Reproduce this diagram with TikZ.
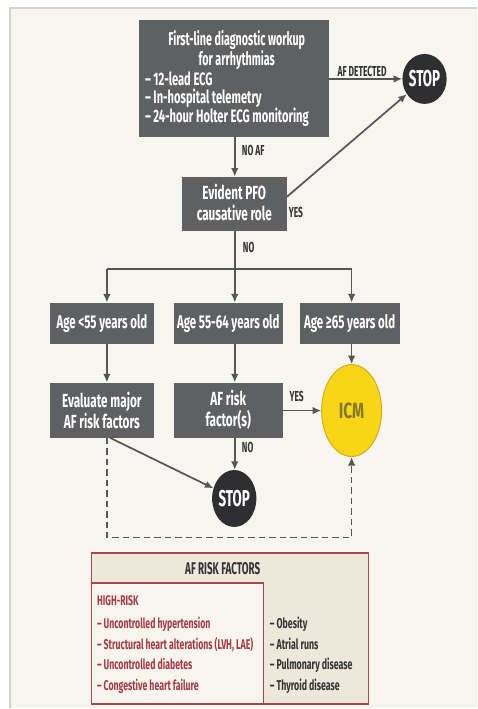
\documentclass[tikz,border=0pt]{standalone}
\usepackage{fontspec}
\setmainfont{Fira Sans}[FakeStretch=0.62]
\newfontfamily\narrowfont{Fira Sans}[FakeStretch=0.58]
\newfontfamily\widefont{Fira Sans}[FakeStretch=0.7]
\usetikzlibrary{arrows.meta,shapes.geometric,calc}
\definecolor{pagebg}{HTML}{F7F5F0}
\definecolor{frameline}{HTML}{D2D2D2}
\definecolor{boxgray}{HTML}{5F6062}
\definecolor{stopfill}{HTML}{2F2F31}
\definecolor{icmfill}{HTML}{F8D615}
\definecolor{icmedge}{HTML}{CFAE1C}
\definecolor{icmtext}{HTML}{85772E}
\definecolor{linegray}{HTML}{555555}
\definecolor{riskred}{HTML}{A8474E}
\definecolor{risktext}{HTML}{A33B45}
\definecolor{riskbeige}{HTML}{EDE8DA}
\definecolor{riskpale}{HTML}{F8F5EF}
\definecolor{labeltext}{HTML}{333333}
\newcommand{\fs}[2]{\fontsize{#1}{#2}\selectfont}

\begin{document}
\begin{tikzpicture}[x=1pt,y=-1pt,
  graybox/.style={rectangle, fill=boxgray, inner sep=0pt},
  boxtext/.style={text=white, inner sep=0pt, align=center, font=\bfseries\fs{19}{21}},
  stopsign/.style={ellipse, fill=stopfill, text=white, inner sep=0pt, font=\narrowfont\bfseries\fs{23}{23}},
  flow/.style={draw=linegray, line width=1.7pt, -{Latex[length=8.5pt,width=7.5pt]}},
  dashflow/.style={flow, dash pattern=on 6.5pt off 4pt},
  lbl/.style={text=labeltext, inner sep=0pt, font=\narrowfont\bfseries\fs{14.5}{14.5}},
  riskitem/.style={inner sep=0pt, anchor=west, align=left, font=\bfseries\fs{14.1}{20.7}}]

% page and frame
\fill[white] (0,0) rectangle (477,709);
\fill[pagebg] (11,9) rectangle (477,709);
\draw[frameline, line width=1.5pt] (10,709) -- (10,8) -- (477,8);

% first-line workup
\node[graybox, minimum width=190pt, minimum height=117pt] (work) at (234,78.5) {};
\node[boxtext, font=\narrowfont\bfseries\fs{18.5}{16}] (worktitle) at (237,50.5)
  {First-line diagnostic workup\\for arrhythmias};
\node[boxtext, anchor=west, align=left, font=\bfseries\fs{18}{17.5}] (worklist) at (145,99.5)
  {– 12-lead ECG\\– In-hospital telemetry\\– 24-hour Holter ECG monitoring};
\node[stopsign, minimum width=37pt, minimum height=50pt] (stopA) at (425,79) {STOP};

% PFO decision
\node[graybox, minimum width=105pt, minimum height=54pt] (pfo) at (234.5,204) {};
\node[boxtext] (pfotext) at (234.5,203) {Evident PFO\\causative role};

% age groups
\coordinate (brL) at (107,269);
\coordinate (brM) at (235,269);
\coordinate (brR) at (352,269);
\node[graybox, minimum width=104pt, minimum height=41pt] (ageA) at (102,323.5) {};
\node[graybox, minimum width=109pt, minimum height=41pt] (ageB) at (228.5,323.5) {};
\node[graybox, minimum width=100pt, minimum height=41pt] (ageC) at (350,323.5) {};
\node[boxtext, font=\bfseries\fs{18.5}{18.5}] (ageAtext) at (102,323.5) {Age <55 years old};
\node[boxtext, font=\bfseries\fs{18.5}{18.5}] (ageBtext) at (228.5,323.5) {Age 55-64 years old};
\node[boxtext, font=\bfseries\fs{18.5}{18.5}] (ageCtext) at (350,323.5) {Age ≥65 years old};

% second row
\node[graybox, minimum width=104pt, minimum height=55pt] (evalf) at (102,410.5) {};
\node[boxtext] (evaltext) at (102,410.5) {Evaluate major\\AF risk factors};
\node[graybox, minimum width=109pt, minimum height=55pt] (afr) at (228.5,410.5) {};
\node[boxtext] (afrtext) at (228.5,410.5) {AF risk\\factor(s)};
\node[ellipse, fill=icmfill, draw=icmedge, line width=1pt, minimum width=60pt, minimum height=92pt,
      inner sep=0pt, text=icmtext, font=\widefont\bfseries\fs{22}{22}] (icm) at (352,411) {ICM};
\node[stopsign, minimum width=37pt, minimum height=57pt] (stopB) at (234.5,499) {STOP};
\coordinate (dashL) at (107,538);
\coordinate (dashR) at (352,538);

% connectors
\draw[flow] (work.east |- stopA) -- (stopA);
\node[lbl] (lblaf) at (362.5,72) {AF DETECTED};
\draw[flow] (work.south -| brM) -- (pfo.north -| brM);
\node[lbl, anchor=west] (lblnoaf) at (242,151) {NO AF};
\draw[flow] ([yshift=7pt]pfo.east) -- (stopA);
\node[lbl, anchor=west] (lblyes1) at (289,213) {YES};
\draw[draw=linegray, line width=1.7pt] (pfo.south -| brM) -- (brM);
\node[lbl, anchor=west] (lblno1) at (243,248) {NO};
\draw[draw=linegray, line width=1.7pt] (brL) -- (brR);
\draw[flow] (brL) -- (ageA.north -| brL);
\draw[flow] (brM) -- (ageB.north -| brM);
\draw[flow] (brR) -- (ageC.north -| brR);
\draw[flow] (ageA.south -| brL) -- (evalf.north -| brL);
\draw[flow] (ageB.south -| brM) -- (afr.north -| brM);
\draw[flow] (ageC.south -| brR) -- (icm.north);
\draw[flow] (afr.east |- icm) -- (icm);
\node[lbl] (lblyes2) at (297,397) {YES};
\draw[flow] (afr.south -| brM) -- (stopB.north -| brM);
\node[lbl, anchor=west] (lblno2) at (242,448) {NO};
\draw[flow] ($(evalf.south)+(8,0)$) -- (stopB);
\draw[dashflow] (evalf.south -| dashL) -- (dashL) -- (dashR) -- (icm.south);

% risk factor panel
\node[draw=riskred, fill=riskbeige, line width=1.3pt, minimum width=277pt, minimum height=151pt,
      inner sep=0pt, anchor=north west] (riskbox) at (91,553) {};
\node[draw=riskred, fill=riskpale, line width=1.3pt, minimum width=172pt, minimum height=121pt,
      inner sep=0pt, anchor=north west] (highbox) at (91,583) {};
\node[inner sep=0pt, text=labeltext, font=\narrowfont\bfseries\fs{17}{17}] (risktitle) at (223,569) {AF RISK FACTORS};
\node[riskitem, text=risktext, font=\bfseries\fs{14}{14}] (hightitle) at (97,601) {HIGH-RISK};
\node[riskitem, text=risktext] (highlist) at (97,656)
  {– Uncontrolled hypertension\\– Structural heart alterations (LVH, LAE)\\– Uncontrolled diabetes\\– Congestive heart failure};
\node[riskitem, text=labeltext, font=\bfseries\fs{14.2}{20.7}] (otherlist) at (270,656)
  {– Obesity\\– Atrial runs\\– Pulmonary disease\\– Thyroid disease};
\end{tikzpicture}
\end{document}
